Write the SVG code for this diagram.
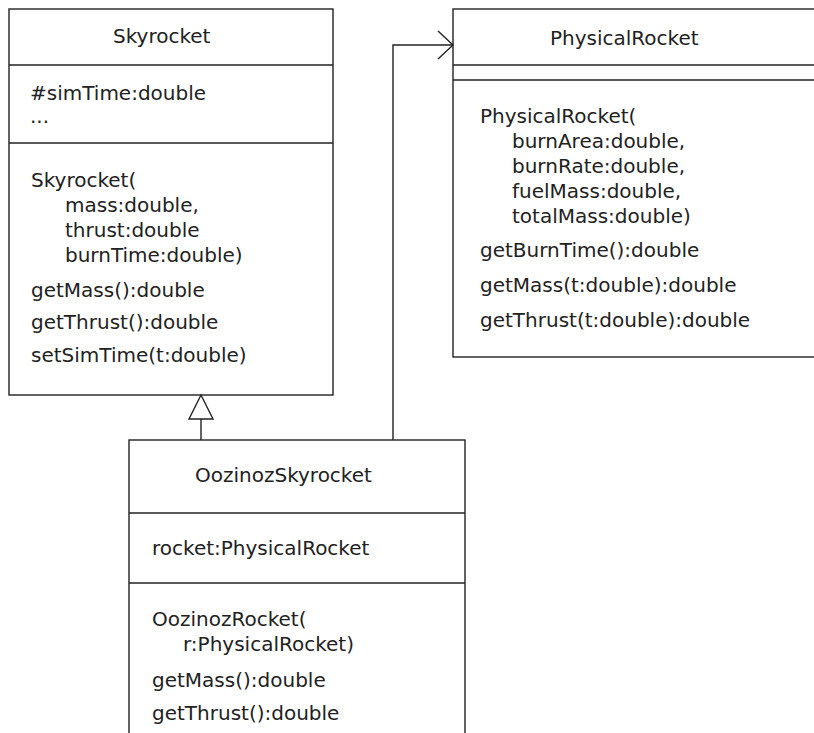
<svg xmlns="http://www.w3.org/2000/svg" width="814" height="733" viewBox="0 0 814 733">
<style>
.box{fill:#fff;stroke:#222;stroke-width:1.4}
.ln{stroke:#222;stroke-width:1.4;fill:none}
text{font-family:"DejaVu Sans",sans-serif;font-size:20px;fill:#222}
</style>
<rect width="814" height="733" fill="#fff"/>
<g id="Skyrocket">
<rect class="box" x="9" y="9" width="324" height="386"/>
<line class="ln" x1="9" y1="65" x2="333" y2="65"/>
<line class="ln" x1="9" y1="143" x2="333" y2="143"/>
<text x="113" y="43">Skyrocket</text>
<text x="30" y="100">#simTime:double</text>
<text x="30" y="123">...</text>
<text x="31" y="187">Skyrocket(</text>
<text x="65" y="212">mass:double,</text>
<text x="65" y="237">thrust:double</text>
<text x="65" y="262">burnTime:double)</text>
<text x="31" y="297">getMass():double</text>
<text x="31" y="329">getThrust():double</text>
<text x="31" y="362">setSimTime(t:double)</text>
</g>
<g id="PhysicalRocket">
<rect class="box" x="453" y="9" width="380" height="348"/>
<line class="ln" x1="453" y1="65" x2="833" y2="65"/>
<line class="ln" x1="453" y1="80" x2="833" y2="80"/>
<text x="550" y="45">PhysicalRocket</text>
<text x="480" y="123">PhysicalRocket(</text>
<text x="512" y="148">burnArea:double,</text>
<text x="512" y="173">burnRate:double,</text>
<text x="512" y="198">fuelMass:double,</text>
<text x="512" y="223">totalMass:double)</text>
<text x="480" y="257">getBurnTime():double</text>
<text x="480" y="292">getMass(t:double):double</text>
<text x="480" y="327">getThrust(t:double):double</text>
</g>
<g id="OozinozSkyrocket">
<rect class="box" x="129" y="440" width="336" height="320"/>
<line class="ln" x1="129" y1="513" x2="465" y2="513"/>
<line class="ln" x1="129" y1="583" x2="465" y2="583"/>
<text x="195" y="482">OozinozSkyrocket</text>
<text x="152" y="555">rocket:PhysicalRocket</text>
<text x="152" y="626">OozinozRocket(</text>
<text x="183" y="651">r:PhysicalRocket)</text>
<text x="152" y="687">getMass():double</text>
<text x="152" y="720">getThrust():double</text>
</g>
<g id="connectors">
<line class="ln" x1="201" y1="440" x2="201" y2="419"/>
<polygon class="box" points="201,395 189,419 213,419"/>
<polyline class="ln" points="393,440 393,45 453,45"/>
<polyline class="ln" points="438,31 453,45 438,59"/>
</g>
</svg>
